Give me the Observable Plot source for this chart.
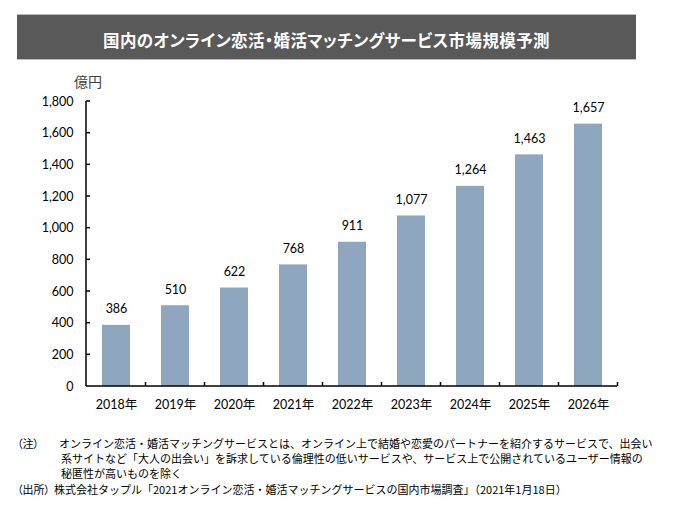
<!DOCTYPE html>
<html>
<head>
<meta charset="utf-8">
<script src="https://cdn.jsdelivr.net/npm/d3@7"></script>
<script src="https://cdn.jsdelivr.net/npm/@observablehq/plot@0.6"></script>
<style>
  body { margin: 0; background: #fff; }
  #wrap { position: relative; width: 686px; height: 513px; overflow: hidden; font-family: Lato, "Noto Sans CJK JP", sans-serif; color: #000; }
  #titlebox { position: absolute; left: 17px; top: 14px; width: 619px; height: 46px; background: #595959; border-top: 1px solid #bdbdbd; border-bottom: 1px solid #bdbdbd; box-sizing: border-box; }
  #title { position: absolute; left: 17px; width: 619px; top: 27px; text-align: center; color: #fff; font-family: "Noto Sans CJK JP", sans-serif; font-weight: bold; font-size: 16.5px; line-height: 26px; font-feature-settings: "palt"; letter-spacing: 0.4px; }
  #unit { position: absolute; left: 74px; top: 72px; font-family: "Noto Sans CJK JP", sans-serif; font-size: 14px; line-height: 18px; color: #404040; }
  #chart { position: absolute; left: 0; top: 60px; }
  .note { position: absolute; font-family: "Noto Sans CJK JP", sans-serif; font-size: 11px; line-height: 14px; white-space: nowrap; color: #000; }
  .lab { font-feature-settings: "palt"; }
</style>
</head>
<body>
<div id="wrap">
  <div id="titlebox"></div>
  <div id="title"></div>
  <div id="unit"></div>
  <div id="chart"></div>
  <div class="note lab" id="n0" style="left:17px; top:436px;"></div>
  <div class="note" id="n1" style="left:59px; top:436px;"></div>
  <div class="note" id="n2" style="left:61px; top:451px;"></div>
  <div class="note" id="n3" style="left:61px; top:466px;"></div>
  <div class="note lab" id="n4" style="left:17px; top:482px;"></div>
  <div class="note" id="n5" style="left:54px; top:482px;"></div>
</div>
<script>
const titleText = "国内のオンライン恋活・婚活マッチングサービス市場規模予測";
const unitText = "億円";
const years = ["2018年", "2019年", "2020年", "2021年", "2022年", "2023年", "2024年", "2025年", "2026年"];
const values = [386, 510, 622, 768, 911, 1077, 1264, 1463, 1657];
const yTicks = [0, 200, 400, 600, 800, 1000, 1200, 1400, 1600, 1800];
const noteLabel = "（注）";
const noteLines = [
  "オンライン恋活・婚活マッチングサービスとは、オンライン上で結婚や恋愛のパートナーを紹介するサービスで、出会い",
  "系サイトなど「大人の出会い」を訴求している倫理性の低いサービスや、サービス上で公開されているユーザー情報の",
  "秘匿性が高いものを除く"
];
const sourceLabel = "（出所）";
const sourceText = "株式会社タップル「2021オンライン恋活・婚活マッチングサービスの国内市場調査」（2021年1月18日）";

document.getElementById("title").textContent = titleText;
document.getElementById("unit").textContent = unitText;
document.getElementById("n0").textContent = noteLabel;
document.getElementById("n1").textContent = noteLines[0];
document.getElementById("n2").textContent = noteLines[1];
document.getElementById("n3").textContent = noteLines[2];
document.getElementById("n4").textContent = sourceLabel;
document.getElementById("n5").textContent = sourceText;

const data = years.map((year, i) => ({year, value: values[i]}));

function axisLines(index, scales, vals, dims) {
  const x = scales.x, y = scales.y;
  const g = d3.create("svg:g").attr("stroke", "#000").attr("fill", "none").attr("stroke-width", 1.5);
  const x0 = dims.marginLeft, x1 = dims.width - dims.marginRight;
  const yb = y(0), yt = y(d3.max(yTicks));
  g.append("line").attr("x1", x0).attr("x2", x0).attr("y1", yb).attr("y2", yt);
  g.append("line").attr("x1", x0).attr("x2", x1).attr("y1", yb).attr("y2", yb);
  yTicks.slice(1).forEach(t => {
    g.append("line").attr("x1", x0).attr("x2", x0 + 4).attr("y1", y(t)).attr("y2", y(t));
  });
  const step = x.step(), bw = x.bandwidth();
  years.forEach(d => {
    const bx = x(d) + bw / 2 + step / 2;
    g.append("line").attr("x1", bx).attr("x2", bx).attr("y1", yb).attr("y2", yb - 4);
  });
  return g.node();
}

const chart = Plot.plot({
  width: 686,
  height: 365,
  marginTop: 41,
  marginBottom: 39,
  marginLeft: 86,
  marginRight: 69,
  style: {fontFamily: "Lato, 'Noto Sans CJK JP', sans-serif", fontSize: "12.5px", color: "#000", background: "transparent"},
  x: {domain: years, paddingInner: 0.53, paddingOuter: 0.265, align: 0.5},
  y: {domain: [0, 1800]},
  marks: [
    Plot.barY(data, {x: "year", y: "value", fill: "#8fa6bf"}),
    Plot.text(data, {x: "year", y: "value", text: d => d3.format(",")(d.value), dy: -16, fill: "#000", fontSize: 12.5}),
    Plot.axisX({tickSize: 0, tickPadding: 14, label: null, fill: "#000", fontSize: 12.5}),
    Plot.axisY(yTicks, {tickSize: 0, tickPadding: 13, tickFormat: d3.format(","), label: null, fill: "#000", fontSize: 12.5}),
    axisLines
  ]
});
document.getElementById("chart").appendChild(chart);
</script>
</body>
</html>
